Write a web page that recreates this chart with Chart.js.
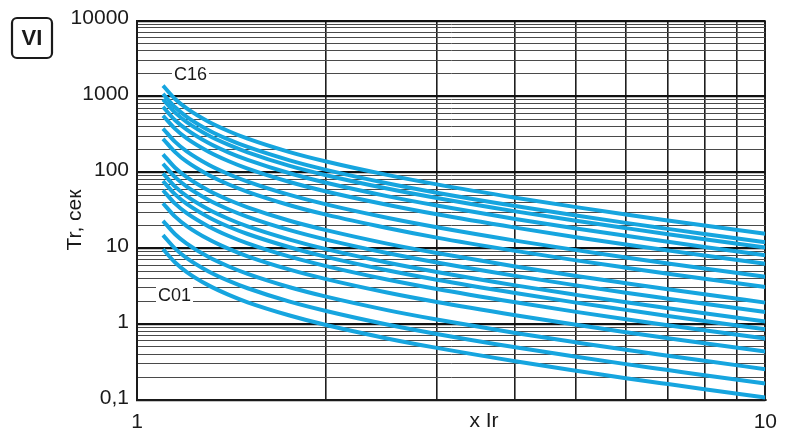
<!DOCTYPE html>
<html>
<head>
<meta charset="utf-8">
<script src="https://cdn.jsdelivr.net/npm/chart.js@4/dist/chart.umd.min.js"></script>
<style>
html,body{margin:0;padding:0;background:#fff;}
#wrap{width:787px;height:432px;position:relative;}
</style>
</head>
<body>
<div id="wrap"><canvas id="c" width="787" height="432"></canvas></div>
<script>
// Multiples of Ir (x axis)
const xValues = [1.1, 1.15, 1.2, 1.3, 1.4, 1.5, 1.75, 2, 2.5, 3, 4, 5, 6, 7, 8, 10];

// Tripping time Tr (s) per curve
const C16 = [1390, 927, 695, 464, 348, 278, 185, 139, 92.7, 69.5, 46.4, 34.8, 27.8, 23.2, 19.9, 15.5];
const C15 = [1080, 720, 540, 360, 270, 216, 144, 108, 72, 54, 36, 27, 21.6, 18, 15.4, 12];
const C14 = [918, 612, 459, 306, 230, 184, 122, 91.8, 61.2, 45.9, 30.6, 23.0, 18.4, 15.3, 13.1, 10.2];
const C13 = [729, 486, 365, 243, 182, 146, 97.2, 72.9, 48.6, 36.5, 24.3, 18.2, 14.6, 12.2, 10.4, 8.1];
const C12 = [560, 374, 280, 187, 140, 112, 74.7, 56.0, 37.4, 28.0, 18.7, 14.0, 11.2, 9.34, 8.0, 6.23];
const C11 = [378, 252, 189, 126, 94.5, 75.6, 50.4, 37.8, 25.2, 18.9, 12.6, 9.45, 7.56, 6.3, 5.4, 4.2];
const C10 = [277, 185, 138, 92.3, 69.2, 55.4, 36.9, 27.7, 18.5, 13.8, 9.23, 6.92, 5.54, 4.61, 3.95, 3.08];
const C09 = [173, 115, 86.4, 57.6, 43.2, 34.6, 23.0, 17.3, 11.5, 8.64, 5.76, 4.32, 3.46, 2.88, 2.47, 1.92];
const C08 = [130, 86.4, 64.8, 43.2, 32.4, 25.9, 17.3, 13.0, 8.64, 6.48, 4.32, 3.24, 2.59, 2.16, 1.85, 1.44];
const C07 = [97.2, 64.8, 48.6, 32.4, 24.3, 19.4, 13.0, 9.72, 6.48, 4.86, 3.24, 2.43, 1.94, 1.62, 1.39, 1.08];
const C06 = [77.0, 51.3, 38.5, 25.7, 19.2, 15.4, 10.3, 7.70, 5.13, 3.85, 2.57, 1.92, 1.54, 1.28, 1.10, 0.855];
const C05 = [58.1, 38.7, 29.0, 19.4, 14.5, 11.6, 7.74, 5.81, 3.87, 2.90, 1.94, 1.45, 1.16, 0.968, 0.829, 0.645];
const C04 = [39.2, 26.1, 19.6, 13.1, 9.79, 7.83, 5.22, 3.92, 2.61, 1.96, 1.31, 0.979, 0.783, 0.653, 0.559, 0.435];
const C03 = [23.0, 15.3, 11.5, 7.65, 5.74, 4.59, 3.06, 2.30, 1.53, 1.15, 0.765, 0.574, 0.459, 0.383, 0.328, 0.255];
const C02 = [14.9, 9.9, 7.43, 4.95, 3.71, 2.97, 1.98, 1.49, 0.99, 0.743, 0.495, 0.371, 0.297, 0.248, 0.212, 0.165];
const C01 = [9.72, 6.48, 4.86, 3.24, 2.43, 1.94, 1.30, 0.972, 0.648, 0.486, 0.324, 0.243, 0.194, 0.162, 0.139, 0.108];

const seriesNames = ['C01','C02','C03','C04','C05','C06','C07','C08','C09','C10','C11','C12','C13','C14','C15','C16'];
const seriesData = [C01,C02,C03,C04,C05,C06,C07,C08,C09,C10,C11,C12,C13,C14,C15,C16];

// Axis tick labels
const yTickLabels = {0.1:'0,1', 1:'1', 10:'10', 100:'100', 1000:'1000', 10000:'10000'};
const xTickLabels = {1:'1', 10:'10'};
const xTitle = 'x Ir';
const yTitle = 'Tr, сек';
const badge = 'VI';
const curveLabels = [{text:'C16', x:1.145, y:2000}, {text:'C01', x:1.08, y:2.45}];

const FONT = "'Liberation Sans', Arial, sans-serif";
const BLUE = '#16a5df';

function isDecade(v){ const l = Math.log10(v); return Math.abs(l - Math.round(l)) < 1e-6; }

const datasets = seriesData.map((arr, i) => ({
  label: seriesNames[i],
  data: arr.map((v, j) => ({x: xValues[j], y: v})),
  borderColor: BLUE,
  borderWidth: 4,
  pointRadius: 0,
  fill: false,
  cubicInterpolationMode: 'monotone',
  borderCapStyle: 'butt'
}));

const overlay = {
  id: 'overlay',
  afterDatasetsDraw(chart){
    const ctx = chart.ctx;
    const xs = chart.scales.x, ys = chart.scales.y;
    ctx.save();
    ctx.font = '18px ' + FONT;
    ctx.textBaseline = 'middle';
    ctx.textAlign = 'left';
    curveLabels.forEach(l => {
      const px = xs.getPixelForValue(l.x), py = ys.getPixelForValue(l.y);
      const w = ctx.measureText(l.text).width;
      ctx.fillStyle = '#fff';
      ctx.fillRect(px - 2, py - 8, w + 4, 16);
      ctx.fillStyle = '#1a1a1a';
      ctx.fillText(l.text, px, py + 1);
    });
    ctx.font = '21px ' + FONT;
    ctx.textAlign = 'center';
    ctx.fillStyle = '#1a1a1a';
    ctx.fillText(xTitle, 484, 421);
    ctx.save();
    ctx.translate(75, 220);
    ctx.rotate(-Math.PI/2);
    ctx.fillText(yTitle, 0, 0);
    ctx.restore();
    ctx.lineWidth = 2.2;
    ctx.strokeStyle = '#1a1a1a';
    const bx = 12, by = 18, bw = 40, bh = 40, r = 5;
    ctx.beginPath();
    ctx.moveTo(bx + r, by);
    ctx.arcTo(bx + bw, by, bx + bw, by + bh, r);
    ctx.arcTo(bx + bw, by + bh, bx, by + bh, r);
    ctx.arcTo(bx, by + bh, bx, by, r);
    ctx.arcTo(bx, by, bx + bw, by, r);
    ctx.closePath();
    ctx.stroke();
    ctx.font = 'bold 22px ' + FONT;
    ctx.fillText(badge, bx + bw/2, by + bh/2 + 1);
    ctx.restore();
  }
};

new Chart(document.getElementById('c'), {
  type: 'line',
  data: { datasets },
  options: {
    responsive: false,
    animation: false,
    events: [],
    layout: { padding: { left: 0, right: 20, top: 15, bottom: 0 } },
    plugins: { legend: { display: false }, tooltip: { enabled: false } },
    scales: {
      x: {
        type: 'logarithmic',
        min: 1, max: 10,
        afterBuildTicks(scale){
          const t = [];
          for (let i = 1; i <= 10; i++) t.push({value: i});
          scale.ticks = t;
        },
        afterFit(scale){ scale.height = 32; },
        ticks: {
          autoSkip: false, maxRotation: 0,
          color: '#1a1a1a',
          font: { size: 21, family: FONT },
          padding: 10,
          callback: (v) => (xTickLabels[v] !== undefined ? xTickLabels[v] : '')
        },
        grid: {
          color: '#1e1e1e',
          lineWidth: (c) => (c.tick && (c.tick.value === 10) ? 2 : 1.6),
          drawTicks: false
        },
        border: { display: true, color: '#1a1a1a', width: 2 }
      },
      y: {
        type: 'logarithmic',
        min: 0.1, max: 10000,
        afterBuildTicks(scale){
          const t = [];
          for (let e = -1; e <= 3; e++) {
            for (let m = 1; m <= 9; m++) t.push({value: +(m * Math.pow(10, e)).toPrecision(6)});
          }
          t.push({value: 10000});
          scale.ticks = t;
        },
        afterFit(scale){ scale.width = 137; },
        ticks: {
          autoSkip: false,
          color: '#1a1a1a',
          font: { size: 21, family: FONT },
          padding: 8,
          labelOffset: -2,
          callback: (v) => (yTickLabels[v] !== undefined ? yTickLabels[v] : '')
        },
        grid: {
          color: (c) => (c.tick && isDecade(c.tick.value) ? '#111' : '#4a4a4a'),
          lineWidth: (c) => (c.tick && isDecade(c.tick.value) ? 2.2 : 1),
          drawTicks: false
        },
        border: { display: true, color: '#1a1a1a', width: 2 }
      }
    }
  },
  plugins: [overlay]
});
</script>
</body>
</html>
